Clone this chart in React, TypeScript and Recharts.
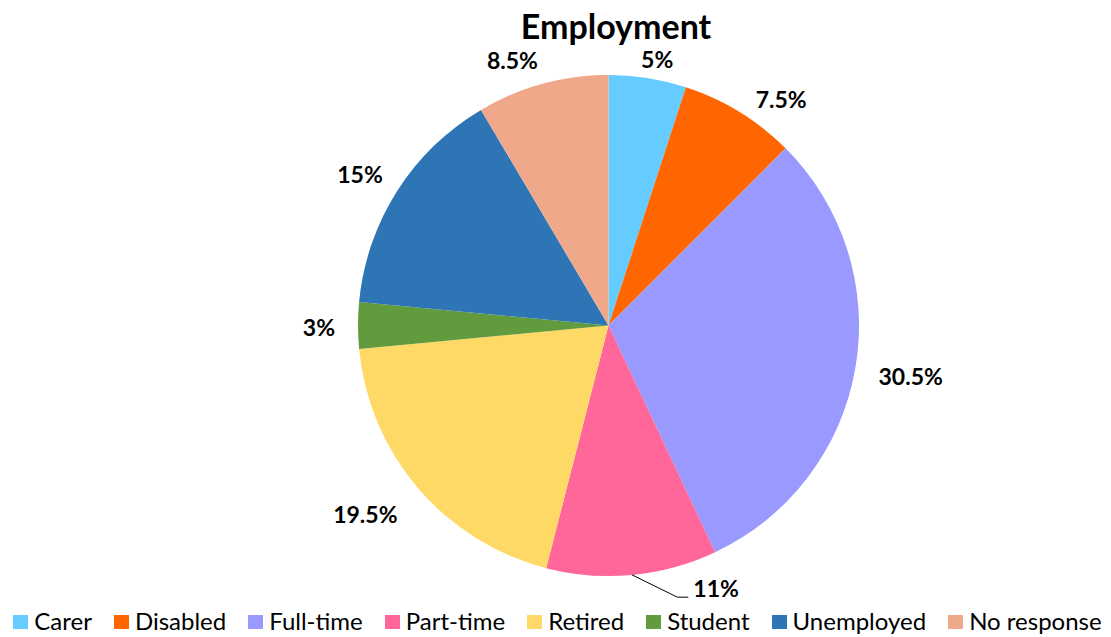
import React from 'react';
import { PieChart, Pie, Cell, Legend } from 'recharts';

const categories = ['Carer', 'Disabled', 'Full-time', 'Part-time', 'Retired', 'Student', 'Unemployed', 'No response'];
const values = [5, 7.5, 30.5, 11, 19.5, 3, 15, 8.5];
const labels = ['5%', '7.5%', '30.5%', '11%', '19.5%', '3%', '15%', '8.5%'];
const colors = ['#66CCFF', '#FF6600', '#9999FF', '#FF6699', '#FFD966', '#629B3E', '#2E75B6', '#F0A88B'];
const title = 'Employment';

const data = categories.map((name, i) => ({ name, value: values[i], label: labels[i] }));

const W = 1111;
const H = 637;
const FONT = 'Lato, "Open Sans", sans-serif';
const LABEL_SIZE = 23;
const RAD = Math.PI / 180;

// label nudges (styling offsets relative to radial placement)
const nudges: Record<string, [number, number]> = {
  Carer: [6, 4],
  Disabled: [25, 15],
  'Full-time': [11, 0],
  Retired: [-21, -1],
  Student: [-11, 2],
  Unemployed: [-7, 2],
  'No response': [-23, 2],
};

let ctx: CanvasRenderingContext2D | null = null;
function measure(text: string, font: string): number {
  if (typeof document === 'undefined') return text.length * 13;
  if (!ctx) ctx = document.createElement('canvas').getContext('2d');
  if (!ctx) return text.length * 13;
  ctx.font = font;
  return ctx.measureText(text).width;
}

const renderLabel = (props: any) => {
  const { cx, cy, midAngle, outerRadius, index } = props;
  const name = categories[index];
  const text = labels[index];
  const dx = Math.cos(midAngle * RAD);
  const dy = -Math.sin(midAngle * RAD);
  const w = measure(text, `bold ${LABEL_SIZE}px Lato`);
  const h = 16;
  const baseOff = LABEL_SIZE * 0.36;
  if (name === 'Part-time') {
    const ax = cx + dx * outerRadius;
    const ay = cy + dy * outerRadius;
    const lx = ax + 84;
    const ly = ay + 14;
    const left = lx - w / 2;
    const base = ly + baseOff;
    return (
      <g key={`lbl-${index}`}>
        <polyline
          points={`${ax},${ay} ${left - 16},${base} ${left - 5},${base}`}
          fill="none"
          stroke="#000"
          strokeWidth={1}
        />
        <text x={lx} y={base} textAnchor="middle" fontFamily={FONT} fontWeight="bold" fontSize={LABEL_SIZE} fill="#000">
          {text}
        </text>
      </g>
    );
  }
  const d = outerRadius + 12 + (Math.abs(dx) * w) / 2 + (Math.abs(dy) * h) / 2;
  const [nx, ny] = nudges[name] || [0, 0];
  const x = cx + dx * d + nx;
  const y = cy + dy * d + ny;
  return (
    <text key={`lbl-${index}`} x={x} y={y + baseOff} textAnchor="middle" fontFamily={FONT} fontWeight="bold" fontSize={LABEL_SIZE} fill="#000">
      {text}
    </text>
  );
};

const renderLegend = () => (
  <div
    style={{
      display: 'flex',
      flexWrap: 'nowrap',
      justifyContent: 'center',
      alignItems: 'center',
      width: 1111,
      marginLeft: 2,
      fontFamily: FONT,
      fontSize: 24,
      color: '#000',
      lineHeight: '24px',
      whiteSpace: 'nowrap',
    }}
  >
    {categories.map((c, i) => (
      <div
        key={c}
        style={{
          display: 'flex',
          flexShrink: 0,
          alignItems: 'center',
          whiteSpace: 'nowrap',
          marginRight: i < categories.length - 1 ? 22 : 0,
        }}
      >
        <span style={{ display: 'inline-block', flexShrink: 0, width: 15, height: 14, background: colors[i], marginRight: 6, marginTop: 2 }} />
        <span style={{ whiteSpace: 'nowrap' }}>{c}</span>
      </div>
    ))}
  </div>
);

export default function App() {
  return (
    <div style={{ position: 'absolute', left: 0, top: 0, width: W, height: H, background: '#fff' }}>
      <PieChart width={W} height={H} margin={{ top: 0, right: 0, bottom: 0, left: 0 }}>
        <Pie
          data={data}
          dataKey="value"
          nameKey="name"
          cx={608.5}
          cy={325.5}
          outerRadius={250.5}
          startAngle={90}
          endAngle={-270}
          stroke="none"
          label={renderLabel}
          labelLine={false}
          isAnimationActive={false}
        >
          {data.map((d, i) => (
            <Cell key={d.name} fill={colors[i]} stroke="none" />
          ))}
        </Pie>
        <Legend
          content={renderLegend}
          wrapperStyle={{ position: 'absolute', top: 609, left: 0, width: W }}
        />
      </PieChart>
      <svg width={W} height={60} style={{ position: 'absolute', left: 0, top: 0, pointerEvents: 'none' }}>
        <text x={616} y={39} textAnchor="middle" fontFamily={FONT} fontWeight="bold" fontSize={34} fill="#000">
          {title}
        </text>
      </svg>
    </div>
  );
}
